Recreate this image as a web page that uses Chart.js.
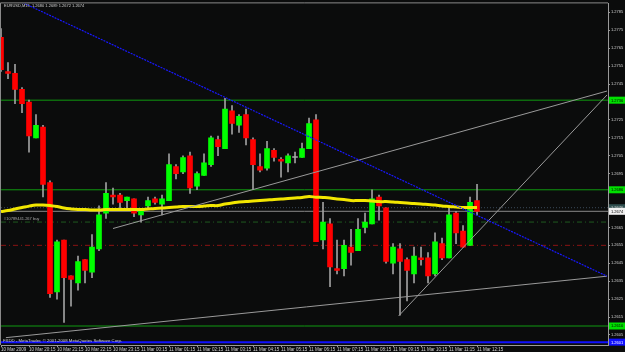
<!DOCTYPE html>
<html><head><meta charset="utf-8">
<script src="https://cdn.jsdelivr.net/npm/chart.js@4.4.1/dist/chart.umd.min.js"></script>
<style>html,body{margin:0;padding:0;background:#0b0c0c;overflow:hidden}#c{display:block}</style>
</head><body>
<canvas id="c" width="625" height="352" style="width:625px;height:352px"></canvas>
<script>
// ---- data (EURUSD, M15, 10 Mar 19:15 .. 11 Mar 12:15) ----
const openP = [1.2771,1.2752,1.2751,1.2742,1.2735,1.2715,1.2721,1.2690,1.2629,1.2658,
1.2638,1.2634,1.2647,1.2640,1.2653,1.2673,1.2683,1.2683,1.2680,1.2681,
1.2672,1.2677,1.2681,1.2678,1.2680,1.2699,1.2696,1.2705,1.2688,1.2694,
1.2700,1.2714,1.2709,1.2730,1.2722,1.2728,1.2714,1.2699,1.2698,1.2708,
1.2703,1.2701,1.2704,1.2704,1.2709,1.2725,1.2658,1.2667,1.2642,1.2642,
1.2654,1.2652,1.2665,1.2667,1.2682,1.2676,1.2645,1.2653,1.2647,1.2639,
1.2648,1.2648,1.2639,1.2656,1.2648,1.2673,1.2663,1.2655,1.2680];
const highP = [1.2776,1.2757,1.2756,1.2743,1.2736,1.2728,1.2722,1.2691,1.2658,1.2658,
1.2638,1.2649,1.2647,1.2661,1.2677,1.2690,1.2687,1.2684,1.2682,1.2681,
1.2675,1.2682,1.2682,1.2683,1.2706,1.2700,1.2705,1.2707,1.2696,1.2706,
1.2716,1.2716,1.2737,1.2733,1.2728,1.2731,1.2715,1.2706,1.2713,1.2709,
1.2704,1.2706,1.2707,1.2712,1.2726,1.2728,1.2679,1.2670,1.2658,1.2658,
1.2664,1.2670,1.2673,1.2686,1.2683,1.2676,1.2656,1.2656,1.2648,1.2654,
1.2654,1.2651,1.2662,1.2659,1.2676,1.2674,1.2666,1.2682,1.2689];
const lowP = [1.2752,1.2748,1.2734,1.2729,1.2707,1.2715,1.2682,1.2626,1.2625,1.2612,
1.2621,1.2630,1.2634,1.2637,1.2652,1.2670,1.2678,1.2676,1.2676,1.2671,
1.2668,1.2676,1.2678,1.2672,1.2680,1.2692,1.2695,1.2684,1.2686,1.2694,
1.2699,1.2705,1.2709,1.2717,1.2718,1.2711,1.2686,1.2696,1.2697,1.2702,
1.2693,1.2696,1.2701,1.2704,1.2709,1.2657,1.2653,1.2632,1.2639,1.2638,
1.2644,1.2652,1.2662,1.2667,1.2669,1.2645,1.2639,1.2616,1.2624,1.2634,
1.2644,1.2634,1.2638,1.2647,1.2648,1.2656,1.2654,1.2655,1.2672];
const closeP = [1.2753,1.2751,1.2742,1.2734,1.2716,1.2722,1.2689,1.2628,1.2657,1.2637,
1.2636,1.2646,1.2641,1.2654,1.2672,1.2684,1.2682,1.2679,1.2682,1.2673,
1.2675,1.2680,1.2679,1.2681,1.2700,1.2695,1.2704,1.2687,1.2695,1.2701,
1.2715,1.2710,1.2731,1.2723,1.2727,1.2715,1.2700,1.2697,1.2709,1.2704,
1.2702,1.2705,1.2704,1.2709,1.2723,1.2657,1.2668,1.2643,1.2641,1.2655,
1.2651,1.2664,1.2668,1.2681,1.2677,1.2646,1.2654,1.2646,1.2641,1.2649,
1.2647,1.2638,1.2657,1.2648,1.2672,1.2662,1.2654,1.2679,1.2674];
const maValues = [1.26739,1.26744,1.26753,1.26761,1.26769,1.26775,1.26775,1.26772,1.26767,1.26758,
1.26753,1.26750,1.26750,1.26747,1.26747,1.26750,1.26750,1.26750,1.26750,1.26750,
1.26750,1.26753,1.26756,1.26758,1.26761,1.26764,1.26767,1.26767,1.26767,1.26769,
1.26772,1.26772,1.26781,1.26786,1.26792,1.26794,1.26797,1.26800,1.26803,1.26806,
1.26808,1.26811,1.26814,1.26817,1.26822,1.26819,1.26817,1.26814,1.26808,1.26806,
1.26800,1.26800,1.26800,1.26797,1.26794,1.26794,1.26792,1.26789,1.26786,1.26783,
1.26781,1.26778,1.26775,1.26769,1.26767,1.26764,1.26761,1.26761,1.26761];
const xTickIdx = [0,4,8,12,16,20,24,28,32,36,40,44,48,52,56,60,64,68];
const xTickLabels = ["10 Mar 2009","10 Mar 20:15","10 Mar 21:15","10 Mar 22:15","10 Mar 23:15",
"11 Mar 00:15","11 Mar 01:15","11 Mar 02:15","11 Mar 03:15","11 Mar 04:15","11 Mar 05:15",
"11 Mar 06:15","11 Mar 07:15","11 Mar 08:15","11 Mar 09:15","11 Mar 10:15","11 Mar 11:15","11 Mar 12:15"];
const yTickValues = [1.2605,1.2615,1.2625,1.2635,1.2645,1.2655,1.2665,1.2675,1.2685,1.2695,
1.2705,1.2715,1.2725,1.2735,1.2745,1.2755,1.2765,1.2775,1.2785];
// horizontal levels
const greenLevels = [1.2736, 1.2686, 1.2610];
const blueLevel = 1.2601;
const bidLevel = 1.2674;
const askLevel = 1.2676;
const orderLevel = 1.2668;
const stopLevel = 1.2655;
// trend lines: [barIndex, price] anchor pairs
const blueTrend = [[3.0, 1.27906], [86.57, 1.26378]];
const grayTrendLow = [[0.7, 1.26035], [86.57, 1.26378]];
const grayTrendHigh = [[16.0, 1.26644], [86.57, 1.27411]];
const grayTrendV = [[56.8, 1.26156], [86.57, 1.27389]];
const headerText = "EURUSD,M15  1.2680 1.2689 1.2672 1.2674";
const footerText = "FXDD - MetaTrader, \u00A9 2001-2008 MetaQuotes Software Corp.";
const orderText = "#10789441.267 buy";

// ---- chart ----
const X_MIN = 0, X_MAX = 86.71, Y_MIN = 1.25994, Y_MAX = 1.27900;
const FONT = "'Liberation Sans', Arial, sans-serif";
const idx = openP.map((_, i) => i);
const bodyColors = idx.map(i => closeP[i] > openP[i] ? '#00ff00' : (closeP[i] < openP[i] ? '#ff0000' : '#a8a8a8'));
const seg = pts => pts.map(p => ({x: p[0], y: p[1]}));
const hline = v => [{x: X_MIN, y: v}, {x: X_MAX, y: v}];
const lineDs = (data, color, width, dash, order) => ({type: 'line', data, borderColor: color, borderWidth: width,
  borderDash: dash || [], pointRadius: 0, fill: false, order, clip: 0, tension: 0});

const axisTags = [
  {v: greenLevels[0], bg: '#00e000', fg: '#000'},
  {v: greenLevels[1], bg: '#00e000', fg: '#000'},
  {v: greenLevels[2], bg: '#00e000', fg: '#000'},
  {v: blueLevel, bg: '#1010ff', fg: '#fff'},
  {v: askLevel, bg: '#2f4f4f', fg: '#ccc'},
  {v: bidLevel, bg: '#f0f0f0', fg: '#000'}
];

const decor = {
  id: 'decor',
  beforeDraw(chart) {
    const c = chart.ctx;
    c.save(); c.fillStyle = '#0b0c0c'; c.fillRect(0, 0, chart.width, chart.height); c.restore();
  },
  afterDraw(chart) {
    const c = chart.ctx, a = chart.chartArea, y = chart.scales.y;
    c.save();
    c.strokeStyle = '#8a8a8a'; c.lineWidth = 1;
    c.beginPath();
    c.moveTo(a.left - 0.5, a.bottom); c.lineTo(a.left - 0.5, a.top - 0.5); c.lineTo(a.right, a.top - 0.5);
    c.stroke();
    c.textBaseline = 'middle'; c.textAlign = 'left';
    c.fillStyle = '#d0d0d0';
    c.font = "4px " + FONT; c.fillText(headerText, 4, 6);
    c.font = "4.3px " + FONT; c.fillText(footerText, 3, 341);
    c.fillStyle = '#a8a8a8'; c.font = "4px " + FONT; c.fillText(orderText, 4, y.getPixelForValue(orderLevel) - 3);
    axisTags.forEach(t => {
      const py = y.getPixelForValue(t.v);
      c.fillStyle = t.bg; c.fillRect(a.right + 1, py - 3.5, chart.width - a.right - 1, 7);
      c.fillStyle = t.fg; c.font = "4px " + FONT; c.fillText(t.v.toFixed(4), a.right + 3, py + 0.3);
    });
    c.restore();
  }
};

new Chart(document.getElementById('c'), {
  type: 'bar',
  data: {
    datasets: [
      lineDs(seg(blueTrend), '#1818ff', 1.2, [2, 1], 0),
      lineDs(seg(grayTrendLow), '#9a9a9a', 1, [], 0),
      lineDs(seg(grayTrendHigh), '#9a9a9a', 1, [], 0),
      lineDs(seg(grayTrendV), '#9a9a9a', 1, [], 0),
      {type: 'line', data: idx.map(i => ({x: i, y: maValues[i]})), borderColor: '#f2e600', borderWidth: 3,
        pointRadius: 0, fill: false, tension: 0.4, order: 1, clip: 0},
      {type: 'bar', data: idx.map(i => ({x: i, y: [Math.min(openP[i], closeP[i]), Math.max(openP[i], closeP[i])]})),
        backgroundColor: bodyColors, borderWidth: 0, barThickness: 5, grouped: false, minBarLength: 1, order: 2},
      {type: 'bar', data: idx.map(i => ({x: i, y: [lowP[i], highP[i]]})),
        backgroundColor: '#a0a0a0', borderWidth: 0, barThickness: 1, grouped: false, order: 3},
      lineDs(hline(greenLevels[0]), '#109a10', 1, [], 4),
      lineDs(hline(greenLevels[1]), '#109a10', 1, [], 4),
      lineDs(hline(greenLevels[2]), '#109a10', 1, [], 4),
      lineDs(hline(blueLevel), '#1010ff', 2, [], 4),
      lineDs(hline(bidLevel), '#8a8a8a', 1, [], 4),
      lineDs(hline(askLevel), '#3a4a5a', 1, [1, 2], 4),
      lineDs(hline(orderLevel), '#1f5a1f', 1, [5, 3, 1, 3], 4),
      lineDs(hline(stopLevel), '#8a1414', 1, [5, 3, 1, 3], 4)
    ]
  },
  options: {
    responsive: false, animation: false, events: [],
    layout: {padding: {top: 2, left: 1, right: 0, bottom: 0}},
    plugins: {legend: {display: false}, tooltip: {enabled: false}},
    scales: {
      x: {type: 'linear', min: X_MIN, max: X_MAX, offset: false,
        afterBuildTicks: s => { s.ticks = xTickIdx.map(v => ({value: v})); },
        afterFit: s => { s.height = 7; },
        ticks: {autoSkip: false, maxRotation: 0, minRotation: 0, align: 'start', padding: 0,
          color: '#d0d0d0', font: {size: 4.5, family: FONT},
          callback: v => { const k = xTickIdx.indexOf(v); return k >= 0 ? xTickLabels[k] : ''; }},
        grid: {drawOnChartArea: false, tickLength: 2, color: '#9a9a9a', offset: false},
        border: {color: '#9a9a9a'}
      },
      y: {type: 'linear', position: 'right', min: Y_MIN, max: Y_MAX,
        afterBuildTicks: s => { s.ticks = yTickValues.map(v => ({value: v})); },
        afterFit: s => { s.width = 17; },
        ticks: {autoSkip: false, padding: 1, color: '#d0d0d0', font: {size: 4, family: FONT},
          callback: v => Number(v).toFixed(4)},
        grid: {drawOnChartArea: false, tickLength: 2, color: '#9a9a9a'},
        border: {color: '#9a9a9a'}
      }
    }
  },
  plugins: [decor]
});
</script>
</body></html>
